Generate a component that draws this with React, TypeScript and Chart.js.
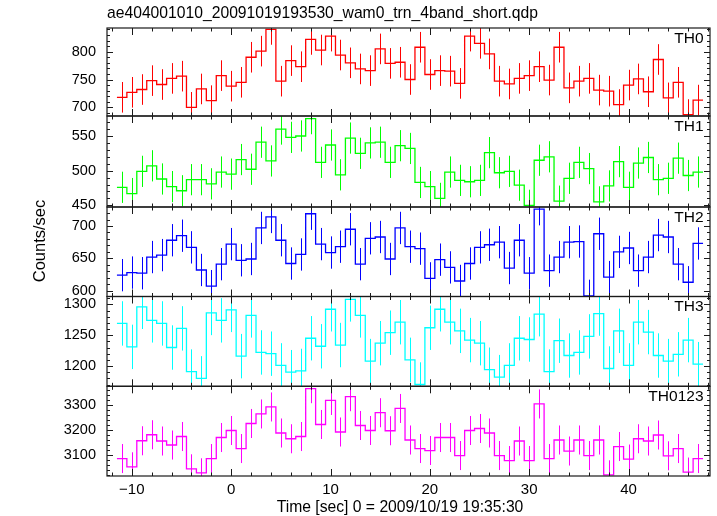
import React, { useEffect, useRef } from "react";
import { Chart, registerables } from "chart.js";

Chart.register(...registerables);

const TITLE = "ae404001010_20091019193530_wam0_trn_4band_short.qdp";
const X_TITLE = "Time [sec] 0 = 2009/10/19 19:35:30";
const Y_TITLE = "Counts/sec";

const binCenters = [
  -11, -10, -9, -8, -7, -6, -5, -4, -3, -2, -1, 0, 1, 2, 3, 4, 5, 6, 7, 8,
  9, 10, 11, 12, 13, 14, 15, 16, 17, 18, 19, 20, 21, 22, 23, 24, 25, 26, 27, 28,
  29, 30, 31, 32, 33, 34, 35, 36, 37, 38, 39, 40, 41, 42, 43, 44, 45, 46, 47,
];

const th0 = [
  718, 727, 732, 748, 741, 752, 756, 700, 733, 712,
  757, 738, 745, 790, 801, 840, 747, 784, 773, 822,
  803, 828, 794, 780, 769, 766, 805, 779, 781, 750,
  808, 759, 766, 765, 743, 828, 815, 796, 747, 742,
  752, 757, 773, 749, 808, 735, 747, 752, 731, 729,
  705, 740, 751, 728, 786, 717, 745, 687, 713,
];
const th1 = [
  476, 467, 499, 507, 488, 477, 471, 487, 487, 481,
  498, 495, 516, 502, 541, 514, 560, 548, 550, 575,
  512, 537, 494, 547, 525, 540, 541, 512, 536, 532,
  483, 477, 460, 498, 486, 484, 486, 526, 497, 499,
  479, 450, 515, 520, 456, 489, 512, 503, 455, 478,
  513, 476, 511, 519, 487, 489, 518, 493, 498,
];
const th2 = [
  624, 628, 627, 652, 655, 678, 685, 667, 632, 607,
  641, 672, 647, 649, 697, 714, 678, 642, 656, 719,
  672, 659, 668, 695, 641, 681, 683, 649, 697, 668,
  665, 619, 648, 636, 615, 642, 667, 671, 675, 635,
  678, 627, 726, 631, 652, 675, 676, 592, 688, 621,
  660, 666, 631, 652, 686, 683, 641, 613, 673,
];
const th3 = [
  1269, 1231, 1296, 1274, 1269, 1230, 1261, 1191, 1180, 1286,
  1274, 1291, 1216, 1282, 1222, 1220, 1201, 1190, 1192, 1245,
  1232, 1292, 1234, 1308, 1282, 1208, 1237, 1254, 1271, 1210,
  1170, 1262, 1292, 1271, 1257, 1242, 1237, 1194, 1182, 1201,
  1245, 1243, 1284, 1191, 1241, 1217, 1222, 1248, 1285, 1196,
  1257, 1201, 1271, 1255, 1217, 1208, 1219, 1242, 1203,
];
const th0123 = [
  3085, 3052, 3156, 3180, 3155, 3139, 3173, 3044, 3028, 3085,
  3169, 3197, 3125, 3225, 3263, 3291, 3187, 3164, 3173, 3364,
  3221, 3317, 3191, 3332, 3217, 3197, 3268, 3196, 3285, 3159,
  3125, 3117, 3169, 3169, 3097, 3197, 3205, 3187, 3097, 3077,
  3155, 3077, 3303, 3085, 3159, 3115, 3159, 3097, 3159, 3020,
  3133, 3083, 3164, 3155, 3179, 3096, 3125, 3031, 3085,
];

const bandNames = ["TH0", "TH1", "TH2", "TH3", "TH0123"];
const bandErrors = [27.5, 22.5, 25, 36, 58];
const yMin = [684.4, 447.6, 591, 1167.1, 3015.3];
const yMax = [842.6, 578.8, 729.4, 1312.7, 3373.5];
const yMajorStep = [50, 50, 50, 50, 100];
const yMinorStep = [10, 10, 10, 10, 20];
const xMin = -12.5;
const xMax = 48.2;
const xMajorStep = 10;
const xMinorStep = 2;
const BIN_WIDTH = 1;

const panelWeights = [88, 91, 89.5, 89.8, 89.7];
const colors = ["#ff0000", "#00ff00", "#0000ff", "#00ffff", "#ff00ff"];
const FONT = "'Liberation Sans', Arial, Helvetica, sans-serif";
const FRAME = "#1a1a1a";

const fmtX = (v: number) => (v < 0 ? "\u2212" + Math.abs(v) : String(v));

const qdpPlugin = {
  id: "qdpDecor",
  beforeDatasetDraw(chart: any, args: any) {
    const meta = args.meta;
    const xs = chart.scales.x;
    const ys = meta.yScale;
    const ctx = chart.ctx;
    ctx.save();
    ctx.beginPath();
    ctx.rect(xs.left, ys.top, xs.right - xs.left, ys.bottom - ys.top);
    ctx.clip();
  },
  afterDatasetDraw(chart: any) {
    chart.ctx.restore();
  },
  beforeDatasetsDraw(chart: any) {
    const ctx = chart.ctx;
    const xs = chart.scales.x;
    const series = [th0, th1, th2, th3, th0123];
    series.forEach((vals, i) => {
      const ys = chart.scales["y" + i];
      ctx.save();
      ctx.beginPath();
      ctx.rect(xs.left, ys.top, xs.right - xs.left, ys.bottom - ys.top);
      ctx.clip();
      ctx.strokeStyle = colors[i];
      ctx.lineWidth = 1;
      ctx.beginPath();
      binCenters.forEach((c, k) => {
        const px = Math.round(xs.getPixelForValue(c)) + 0.5;
        ctx.moveTo(px, ys.getPixelForValue(vals[k] - bandErrors[i]));
        ctx.lineTo(px, ys.getPixelForValue(vals[k] + bandErrors[i]));
      });
      ctx.stroke();
      ctx.restore();
    });
  },
  afterDraw(chart: any) {
    const ctx = chart.ctx;
    const xs = chart.scales.x;
    ctx.save();
    for (let i = 0; i < 5; i++) {
      const ys = chart.scales["y" + i];
      const L = xs.left, R = xs.right, T = ys.top, B = ys.bottom;
      ctx.strokeStyle = FRAME;
      ctx.lineWidth = 1.2;
      ctx.strokeRect(L, T, R - L, B - T);
      ctx.lineWidth = 1;
      ctx.beginPath();
      for (let v = Math.ceil(xMin / xMinorStep) * xMinorStep; v <= xMax; v += xMinorStep) {
        const px = Math.round(xs.getPixelForValue(v)) + 0.5;
        const len = v % xMajorStep === 0 ? 7 : 3.5;
        ctx.moveTo(px, T);
        ctx.lineTo(px, T + len);
        ctx.moveTo(px, B);
        ctx.lineTo(px, B - len);
      }
      const mn = yMinorStep[i];
      for (let v = Math.ceil(yMin[i] / mn) * mn; v <= yMax[i]; v += mn) {
        const py = Math.round(ys.getPixelForValue(v)) + 0.5;
        const major = Math.abs(v % yMajorStep[i]) < 1e-6;
        const len = major ? 6 : 3;
        ctx.moveTo(L, py);
        ctx.lineTo(L + len, py);
        ctx.moveTo(R, py);
        ctx.lineTo(R - len, py);
      }
      ctx.stroke();

      // y tick labels from the scale's own ticks
      ctx.fillStyle = "#000";
      ctx.font = "14.5px " + FONT;
      ctx.textAlign = "right";
      ctx.textBaseline = "middle";
      ys.ticks.forEach((t: any) => {
        ctx.fillText(String(t.value), 96, ys.getPixelForValue(t.value));
      });

      ctx.font = "15.5px " + FONT;
      ctx.textAlign = "right";
      ctx.textBaseline = "middle";
      ctx.fillText(bandNames[i], R - 6.5, T + 10.5);
    }

    // x tick labels from the scale's own ticks
    ctx.fillStyle = "#000";
    ctx.font = "15px " + FONT;
    ctx.textAlign = "center";
    ctx.textBaseline = "middle";
    xs.ticks.forEach((t: any) => {
      ctx.fillText(fmtX(t.value), xs.getPixelForValue(t.value), 490);
    });

    ctx.font = "15.7px " + FONT;
    ctx.textAlign = "left";
    ctx.textBaseline = "middle";
    ctx.fillText(TITLE, 107, 14);

    ctx.textAlign = "center";
    ctx.fillText(X_TITLE, 400, 508);

    ctx.save();
    ctx.translate(40, 241);
    ctx.rotate(-Math.PI / 2);
    ctx.font = "16.5px " + FONT;
    ctx.fillText(Y_TITLE, 0, 0);
    ctx.restore();
    ctx.restore();
  },
};

export default function App() {
  const ref = useRef<HTMLCanvasElement>(null);
  useEffect(() => {
    const canvas = ref.current;
    if (!canvas) return;
    const series = [th0, th1, th2, th3, th0123];
    const datasets = series.map((vals, i) => ({
      label: bandNames[i],
      data: binCenters.flatMap((c, k) => [
        { x: c - BIN_WIDTH / 2, y: vals[k] },
        { x: c + BIN_WIDTH / 2, y: vals[k] },
      ]),
      yAxisID: "y" + i,
      borderColor: colors[i],
      backgroundColor: colors[i],
      borderWidth: 1.3,
      pointRadius: 0,
      fill: false,
      tension: 0,
      clip: false as any,
    }));

    const scales: any = {
      x: {
        type: "linear",
        position: "bottom",
        min: xMin,
        max: xMax,
        grid: { display: false, drawTicks: false },
        border: { display: false },
        ticks: {
          display: false,
          stepSize: xMajorStep,
          includeBounds: false,
          autoSkip: false,
          maxRotation: 0,
        },
        afterFit: (s: any) => {
          s.height = 40;
        },
      },
    };
    for (let i = 4; i >= 0; i--) {
      scales["y" + i] = {
        type: "linear",
        position: "left",
        stack: "panels",
        stackWeight: panelWeights[i],
        min: yMin[i],
        max: yMax[i],
        grid: { display: false, drawTicks: false },
        border: { display: false },
        ticks: {
          display: false,
          stepSize: yMajorStep[i],
          includeBounds: false,
          autoSkip: false,
        },
        afterFit: (s: any) => {
          s.width = 107;
        },
      };
    }

    const chart = new Chart(canvas, {
      type: "line",
      data: { datasets: datasets as any },
      options: {
        animation: false,
        responsive: false,
        maintainAspectRatio: false,
        parsing: false as any,
        normalized: true,
        layout: { padding: { top: 28, right: 7, left: 0, bottom: 0 } },
        plugins: {
          legend: { display: false },
          tooltip: { enabled: false },
          title: { display: false },
        },
        scales,
      },
      plugins: [qdpPlugin],
    });
    return () => chart.destroy();
  }, []);

  return (
    <div style={{ position: "absolute", left: 0, top: 0, width: 717, height: 516, background: "#fff" }}>
      <canvas ref={ref} width={717} height={516} style={{ display: "block", width: 717, height: 516 }} />
    </div>
  );
}
